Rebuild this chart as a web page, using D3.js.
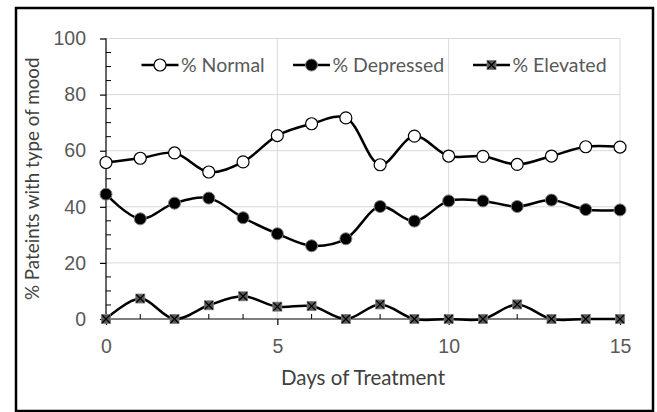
<!DOCTYPE html>
<html>
<head>
<meta charset="utf-8">
<script src="https://cdn.jsdelivr.net/npm/d3@7"></script>
<style>
  body { margin: 0; background: white; }
  svg { display: block; font-family: Lato, "Open Sans", sans-serif; }
</style>
</head>
<body>
<svg id="chart" width="657" height="412"></svg>
<script>
const days = [0, 1, 2, 3, 4, 5, 6, 7, 8, 9, 10, 11, 12, 13, 14, 15];
const normal = [55.8, 57.3, 59.2, 52.4, 56.0, 65.4, 69.6, 71.7, 55.0, 65.2, 58.1, 58.0, 55.1, 58.1, 61.4, 61.3];
const depressed = [44.5, 35.7, 41.3, 43.1, 36.1, 30.4, 26.1, 28.6, 40.1, 34.9, 42.1, 42.1, 40.1, 42.4, 39.0, 38.9];
const elevated = [0, 7.3, 0, 4.9, 8.1, 4.4, 4.6, 0, 5.2, 0, 0, 0, 5.2, 0, 0, 0];
const seriesNames = ["% Normal", "% Depressed", "% Elevated"];
const xTicks = [0, 5, 10, 15];
const yTicks = [0, 20, 40, 60, 80, 100];

const svg = d3.select("#chart");

const margin = { left: 106, right: 37, top: 38.5, bottom: 93 };
const width = 657 - margin.left - margin.right;
const height = 412 - margin.top - margin.bottom;

// outer frame
svg.append("rect")
    .attr("x", 16).attr("y", 8)
    .attr("width", 637).attr("height", 403)
    .attr("fill", "white")
    .attr("stroke", "black")
    .attr("stroke-width", 2.5);

const g = svg.append("g").attr("transform", `translate(${margin.left},${margin.top})`);

const x = d3.scaleLinear().domain([0, 15]).range([0, width]);
const y = d3.scaleLinear().domain([0, 100]).range([height, 0]);

// gridlines
g.selectAll("line.hgrid")
    .data(yTicks.filter(d => d > 0))
    .join("line")
    .attr("class", "hgrid")
    .attr("x1", 0).attr("x2", width)
    .attr("y1", d => y(d)).attr("y2", d => y(d))
    .attr("stroke", "#d9d9d9").attr("stroke-width", 1);

g.selectAll("line.vgrid")
    .data(xTicks.filter(d => d > 0))
    .join("line")
    .attr("class", "vgrid")
    .attr("x1", d => x(d)).attr("x2", d => x(d))
    .attr("y1", 0).attr("y2", height)
    .attr("stroke", "#d9d9d9").attr("stroke-width", 1);

// minor ticks (inside)
const yMinor = d3.range(0, 101, 5).filter(d => yTicks.indexOf(d) < 0);
g.selectAll("line.yminor")
    .data(yMinor)
    .join("line")
    .attr("class", "yminor")
    .attr("x1", 0).attr("x2", 5)
    .attr("y1", d => y(d)).attr("y2", d => y(d))
    .attr("stroke", "black").attr("stroke-width", 1);

g.selectAll("line.xminor")
    .data(days.filter(d => xTicks.indexOf(d) < 0))
    .join("line")
    .attr("class", "xminor")
    .attr("x1", d => x(d)).attr("x2", d => x(d))
    .attr("y1", height).attr("y2", height - 5)
    .attr("stroke", "black").attr("stroke-width", 1);

// axes
const xAxis = g.append("g")
    .attr("transform", `translate(0,${height})`)
    .call(d3.axisBottom(x).tickValues(xTicks).tickSize(6).tickPadding(14));
const yAxis = g.append("g")
    .call(d3.axisLeft(y).tickValues(yTicks).tickSize(6).tickPadding(14));

[xAxis, yAxis].forEach(a => {
    a.select(".domain").attr("stroke", "black").attr("stroke-width", 1.2);
    a.selectAll(".tick line").attr("stroke", "black").attr("stroke-width", 1.2);
    a.selectAll(".tick text")
        .attr("fill", "#595959")
        .attr("font-size", 19.5);
});
yAxis.select(".domain").attr("d", `M0,${height}V0`);
xAxis.select(".domain").attr("d", `M0,0H${width}`);

// axis titles
svg.append("text")
    .attr("x", margin.left + width / 2)
    .attr("y", 385)
    .attr("text-anchor", "middle")
    .attr("fill", "#404040")
    .attr("font-size", 20.5)
    .text("Days of Treatment");

svg.append("text")
    .attr("transform", `translate(39,${margin.top + height / 2})rotate(-90)`)
    .attr("text-anchor", "middle")
    .attr("fill", "#404040")
    .attr("font-size", 18.8)
    .text("% Pateints with type of mood");

// lines
const line = d3.line()
    .x((d, i) => x(days[i]))
    .y(d => y(d))
    .curve(d3.curveCatmullRom.alpha(0.5));

const series = [normal, depressed, elevated];
g.selectAll("path.series")
    .data(series)
    .join("path")
    .attr("class", "series")
    .attr("d", line)
    .attr("fill", "none")
    .attr("stroke", "black")
    .attr("stroke-width", 2.5);

// markers
const drawMarker = (sel, type) => {
    if (type === 0) {
        sel.append("circle").attr("r", 6)
            .attr("fill", "white").attr("stroke", "black").attr("stroke-width", 1.2);
    } else if (type === 1) {
        sel.append("circle").attr("r", 6)
            .attr("fill", "black").attr("stroke", "#7f7f7f").attr("stroke-width", 1);
    } else {
        sel.append("rect").attr("x", -4.5).attr("y", -4.5).attr("width", 9).attr("height", 9)
            .attr("fill", "#595959").attr("stroke", "#7f7f7f").attr("stroke-width", 0.8);
        sel.append("path").attr("d", "M-4,-4L4,4M-4,4L4,-4")
            .attr("stroke", "black").attr("stroke-width", 1.2);
    }
};

series.forEach((s, k) => {
    g.selectAll(`g.m${k}`)
        .data(s)
        .join("g")
        .attr("class", `m${k}`)
        .attr("transform", (d, i) => `translate(${x(days[i])},${y(d)})`)
        .each(function() { drawMarker(d3.select(this), k); });
});

// legend
const legendX = [141.5, 293, 473];
const legend = svg.append("g");
seriesNames.forEach((name, k) => {
    const lg = legend.append("g").attr("transform", `translate(${legendX[k]},65)`);
    lg.append("line").attr("x1", 0).attr("x2", 37).attr("y1", 0).attr("y2", 0)
        .attr("stroke", "black").attr("stroke-width", 2.5);
    drawMarker(lg.append("g").attr("transform", "translate(18.5,0)"), k);
    lg.append("text")
        .attr("x", 39.5)
        .attr("y", 0)
        .attr("dy", "0.35em")
        .attr("fill", "#595959")
        .attr("font-size", 19.5)
        .text(name);
});
</script>
</body>
</html>
